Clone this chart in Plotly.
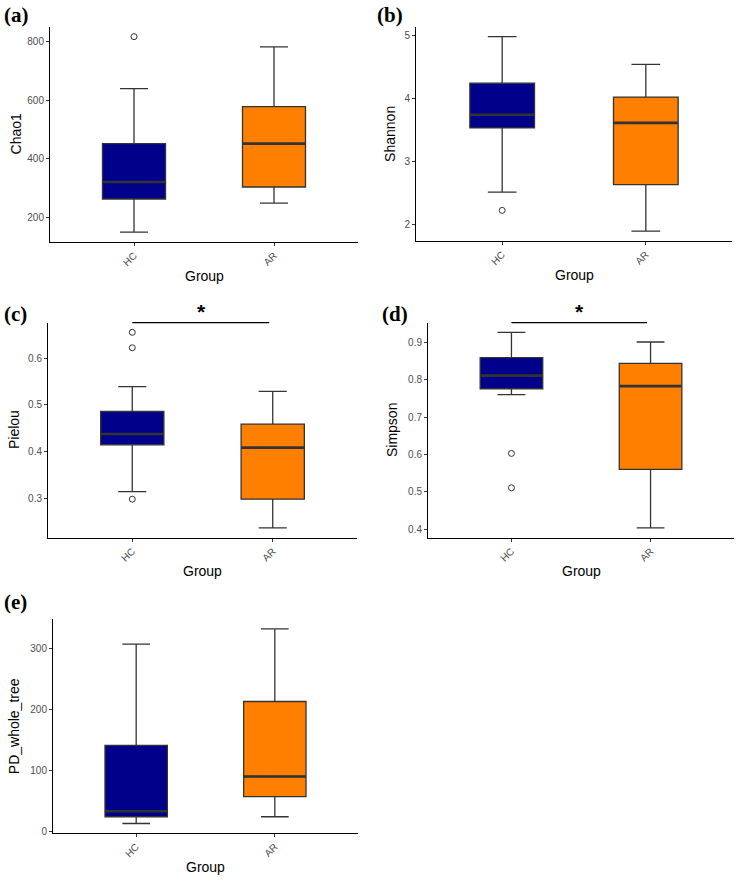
import plotly.graph_objects as go

W, H = 740, 882

groups = ["HC", "AR"]
group_pos = [1, 2]
box_colors = ["#00008B", "#FF7F00"]

metrics = ["Chao1", "Shannon", "Pielou", "Simpson", "PD_whole_tree"]
panel_labels = ["(a)", "(b)", "(c)", "(d)", "(e)"]
significance = [None, None, "*", "*", None]

# ---- box statistics, [HC, AR] ----
chao1_lower = [150, 249]
chao1_q1 = [263, 304]
chao1_median = [321, 452]
chao1_q3 = [452, 578]
chao1_upper = [640, 782]
chao1_outliers = [[817], []]
chao1_ticks = [200, 400, 600, 800]

shannon_lower = [2.52, 1.90]
shannon_q1 = [3.54, 2.64]
shannon_median = [3.75, 3.62]
shannon_q3 = [4.25, 4.03]
shannon_upper = [4.99, 4.55]
shannon_outliers = [[2.23], []]
shannon_ticks = [2, 3, 4, 5]

pielou_lower = [0.315, 0.238]
pielou_q1 = [0.415, 0.299]
pielou_median = [0.438, 0.409]
pielou_q3 = [0.486, 0.459]
pielou_upper = [0.539, 0.529]
pielou_outliers = [[0.655, 0.622, 0.299], []]
pielou_ticks = [0.3, 0.4, 0.5, 0.6]

simpson_lower = [0.760, 0.404]
simpson_q1 = [0.776, 0.560]
simpson_median = [0.811, 0.783]
simpson_q3 = [0.859, 0.844]
simpson_upper = [0.927, 0.901]
simpson_outliers = [[0.603, 0.511], []]
simpson_ticks = [0.4, 0.5, 0.6, 0.7, 0.8, 0.9]

pd_lower = [13, 24]
pd_q1 = [24, 57]
pd_median = [33, 90]
pd_q3 = [141, 213]
pd_upper = [307, 332]
pd_outliers = [[], []]
pd_ticks = [0, 100, 200, 300]

stats = [
    (chao1_lower, chao1_q1, chao1_median, chao1_q3, chao1_upper, chao1_outliers, chao1_ticks),
    (shannon_lower, shannon_q1, shannon_median, shannon_q3, shannon_upper, shannon_outliers, shannon_ticks),
    (pielou_lower, pielou_q1, pielou_median, pielou_q3, pielou_upper, pielou_outliers, pielou_ticks),
    (simpson_lower, simpson_q1, simpson_median, simpson_q3, simpson_upper, simpson_outliers, simpson_ticks),
    (pd_lower, pd_q1, pd_median, pd_q3, pd_upper, pd_outliers, pd_ticks),
]

# ---- layout geometry (pixels) ----
panel_px = [  # x0, x1, y_top, y_bottom
    (50, 358, 27, 243),
    (416, 732, 27, 242),
    (48, 357, 324, 540),
    (428, 734, 324, 540),
    (53, 358, 622, 837),
]
ytitle_x = [16, 390, 14, 392, 14]
label_pos = [(2, 15), (375, 15), (2, 315), (380, 315), (2, 605)]

BOX_W = 0.45
CAP_W = 0.2
LINE_C = "#333333"
TICK_FONT = dict(family="Liberation Sans, Arial, sans-serif", size=10, color="#4D4D4D")
TITLE_FONT = dict(family="Liberation Sans, Arial, sans-serif", size=14, color="#000000")

fig = go.Figure()
layout = dict(
    width=W, height=H, margin=dict(l=0, r=0, t=0, b=0),
    paper_bgcolor="white", plot_bgcolor="white", showlegend=False,
)
annotations = []
shapes = []

for i, (low, q1, med, q3, up, outl, ticks) in enumerate(stats):
    n = i + 1
    xa = "x" if n == 1 else f"x{n}"
    ya = "y" if n == 1 else f"y{n}"
    for g in range(2):
        fig.add_trace(go.Box(
            x=[group_pos[g]], q1=[q1[g]], median=[med[g]], q3=[q3[g]],
            lowerfence=[low[g]], upperfence=[up[g]],
            orientation="v", width=BOX_W, whiskerwidth=CAP_W / BOX_W,
            fillcolor=box_colors[g], line=dict(color=LINE_C, width=1.3),
            boxpoints=False, xaxis=xa, yaxis=ya, name=groups[g],
        ))
        # thicker median line (ggplot fatten)
        fig.add_trace(go.Scatter(
            x=[group_pos[g] - BOX_W / 2, group_pos[g] + BOX_W / 2], y=[med[g], med[g]],
            mode="lines", line=dict(color=LINE_C, width=2.6),
            xaxis=xa, yaxis=ya, hoverinfo="skip",
        ))
        if outl[g]:
            fig.add_trace(go.Scatter(
                x=[group_pos[g]] * len(outl[g]), y=outl[g], mode="markers",
                marker=dict(symbol="circle-open", size=6, color=LINE_C, line=dict(width=1)),
                xaxis=xa, yaxis=ya, cliponaxis=False,
            ))
    allv = low + up + [v for o in outl for v in o]
    vmin, vmax = min(allv), max(allv)
    pad = (vmax - vmin) * 0.05
    x0, x1, yt, yb = panel_px[i]
    xkey = "xaxis" if n == 1 else f"xaxis{n}"
    ykey = "yaxis" if n == 1 else f"yaxis{n}"
    layout[xkey] = dict(
        domain=[x0 / W, x1 / W], anchor=ya, range=[0.4, 2.6],
        tickvals=group_pos, ticktext=groups, tickangle=-45,
        showline=True, linecolor="#000000", linewidth=1, showgrid=False, zeroline=False,
        ticks="outside", ticklen=3, tickcolor=LINE_C, tickwidth=1,
        tickfont=dict(TICK_FONT, size=10),
    )
    layout[ykey] = dict(
        domain=[1 - yb / H, 1 - yt / H], anchor=xa, range=[vmin - pad, vmax + pad],
        tickvals=ticks, ticktext=[f"{t:g}" for t in ticks],
        showline=True, linecolor="#000000", linewidth=1, showgrid=False, zeroline=False,
        ticks="outside", ticklen=3, tickcolor=LINE_C, tickwidth=1,
        tickfont=TICK_FONT,
    )
    # axis titles
    annotations.append(dict(
        text="Group", xref="paper", yref="paper", x=(x0 + x1) / 2 / W, y=1 - (yb + 34) / H,
        xanchor="center", yanchor="middle", showarrow=False, font=TITLE_FONT,
    ))
    annotations.append(dict(
        text=metrics[i], xref="paper", yref="paper", x=ytitle_x[i] / W, y=1 - (yt + yb) / 2 / H,
        xanchor="center", yanchor="middle", textangle=-90, showarrow=False, font=TITLE_FONT,
    ))
    # panel label
    lx, ly = label_pos[i]
    annotations.append(dict(
        text=f"<b>{panel_labels[i]}</b>", xref="paper", yref="paper", x=lx / W, y=1 - ly / H,
        xanchor="left", yanchor="middle", showarrow=False,
        font=dict(family="Liberation Serif, Times New Roman, serif", size=21, color="#000000"),
    ))
    # significance bar
    if significance[i]:
        shapes.append(dict(
            type="line", xref=xa, yref=f"{ya} domain", x0=group_pos[0], x1=group_pos[1] - 0.025,
            y0=1.0, y1=1.0, line=dict(color="#000000", width=1.2),
        ))
        annotations.append(dict(
            text=f"<b>{significance[i]}</b>", xref=xa, yref=f"{ya} domain",
            x=(group_pos[0] + group_pos[1]) / 2 - 0.01, y=1.0, yshift=11,
            xanchor="center", yanchor="middle", showarrow=False,
            font=dict(family="Liberation Sans, Arial, sans-serif", size=21, color="#000000"),
        ))

layout["annotations"] = annotations
layout["shapes"] = shapes
fig.update_layout(**layout)
fig.write_html(
    "out.html",
    config={"displayModeBar": False},
    post_script="document.body.style.margin='0px';document.body.style.padding='0px';",
)
